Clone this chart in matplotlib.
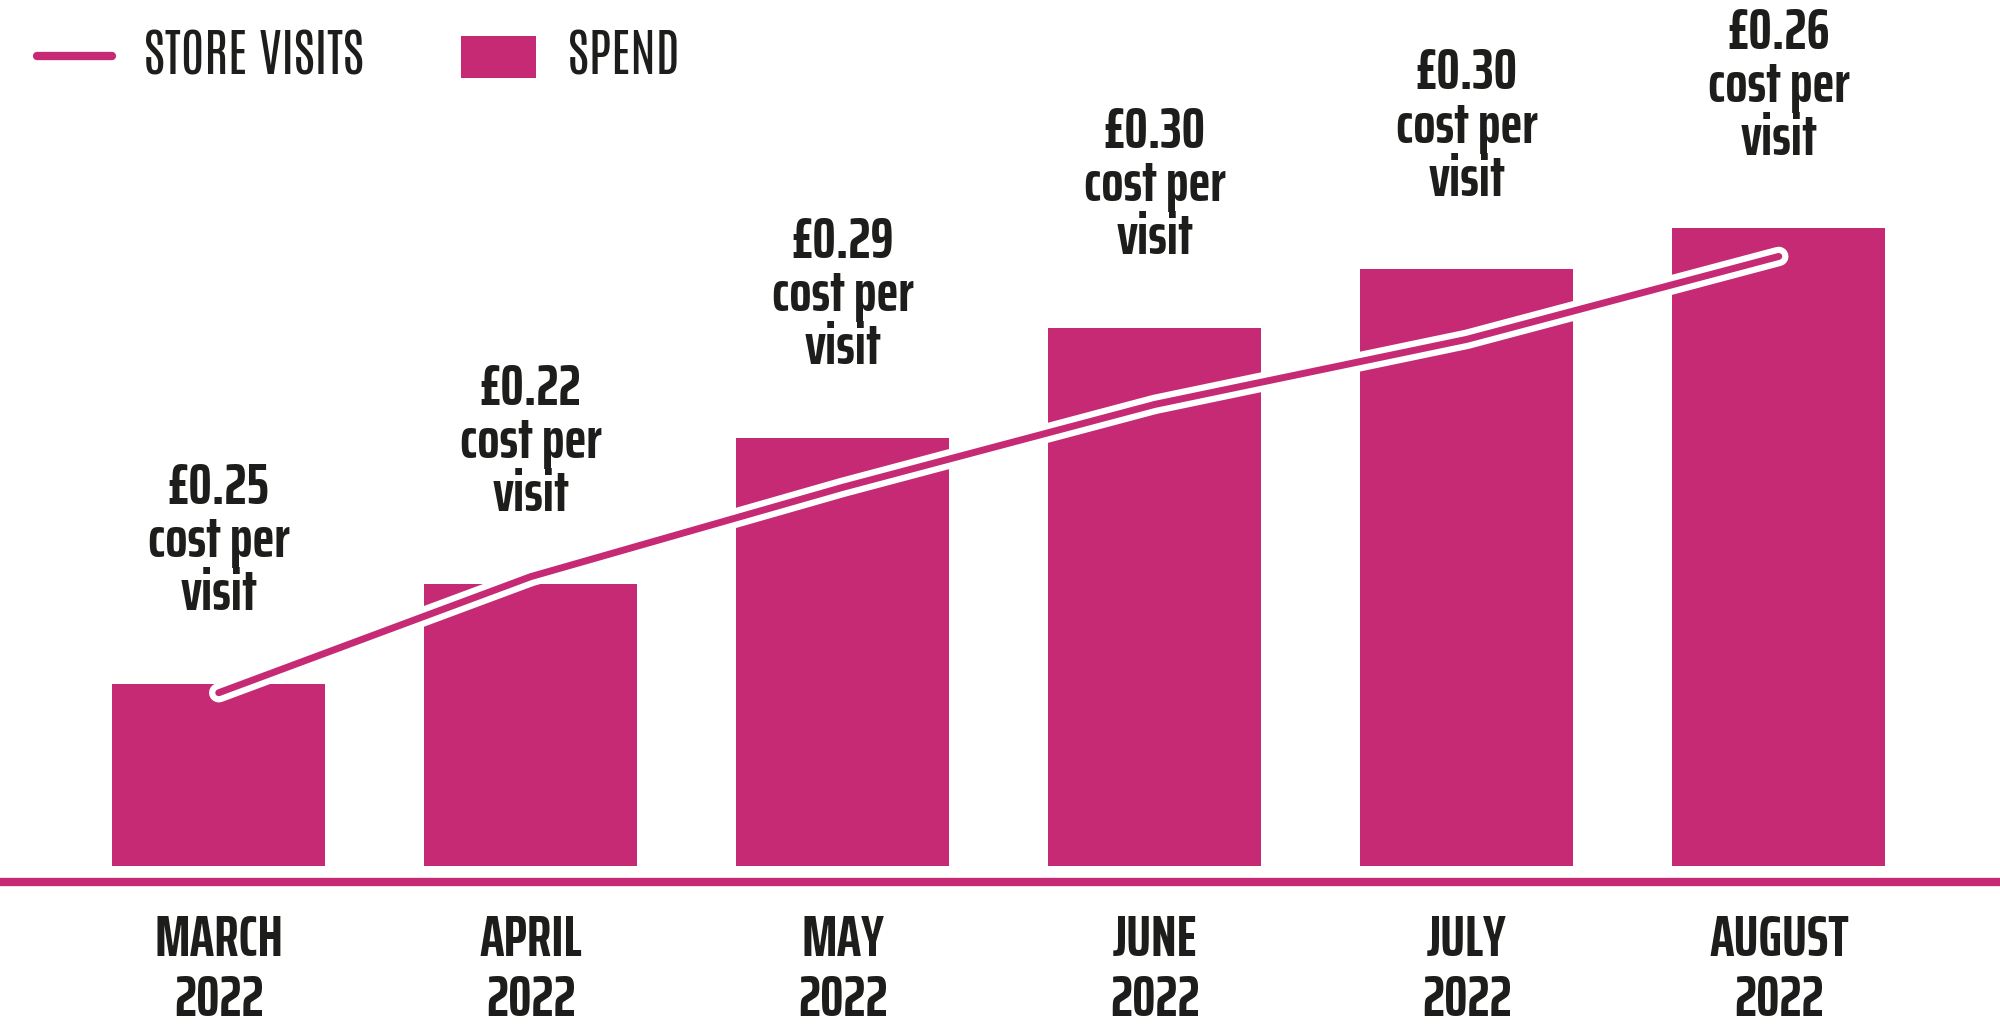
import matplotlib.pyplot as plt
import matplotlib.patheffects as pe
from matplotlib.lines import Line2D
from matplotlib.patches import Patch

# data (relative heights, no axis shown)
months = ['MARCH\n2022', 'APRIL\n2022', 'MAY\n2022', 'JUNE\n2022', 'JULY\n2022', 'AUGUST\n2022']
spend = [143, 221, 336, 422, 468, 500]
store_visits = [136, 227, 297, 362, 413, 478]
cost_per_visit = ['£0.25', '£0.22', '£0.29', '£0.30', '£0.30', '£0.26']

pink = '#C62A75'
dark = '#1D1D1B'
plt.rcParams['font.family'] = ['Antonio', 'League Gothic', 'DejaVu Sans']
bold_font = ['Saira ExtraCondensed', 'Antonio', 'DejaVu Sans']

fig = plt.figure(figsize=(20, 10.27), dpi=100)
ax = fig.add_axes([0, 0, 1, 1])
ax.set_xlim(-0.701, 5.709)
ax.set_ylim(-126, 679)
ax.axis('off')

x = list(range(len(months)))

ax.bar(x, spend, width=0.683, color=pink, zorder=2)

ax.plot(x, store_visits, color=pink, lw=5, zorder=3,
        solid_capstyle='round', solid_joinstyle='round',
        path_effects=[pe.Stroke(linewidth=14, foreground='white', capstyle='round', joinstyle='round'),
                      pe.Normal()])

# baseline
ax.axhline(-12, color=pink, lw=6, solid_capstyle='round', zorder=1)

for i in x:
    ax.text(i, spend[i] + 49, cost_per_visit[i] + '\ncost per\nvisit',
            ha='center', va='bottom', fontsize=42, fontweight='bold',
            family=bold_font, color=dark, linespacing=0.98)
    ax.text(i, -37, months[i], ha='center', va='top', fontsize=42,
            fontweight='bold', family=bold_font, color=dark, linespacing=1.12)

handles = [Line2D([], [], color=pink, lw=6, solid_capstyle='round'),
           Patch(facecolor=pink)]
ax.legend(handles, ['STORE VISITS', 'SPEND'], loc='upper left',
          bbox_to_anchor=(-0.0045, 1.016), ncol=2, frameon=False,
          fontsize=37, handlelength=1.45, handleheight=0.87,
          handletextpad=0.62, columnspacing=1.9, labelcolor=dark)

fig.savefig('out.png', dpi=100)
